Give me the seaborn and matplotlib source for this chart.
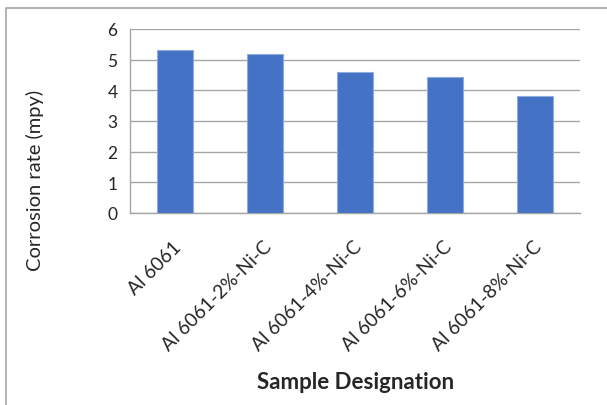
import matplotlib
matplotlib.use('Agg')
import matplotlib.pyplot as plt
from matplotlib.patches import Rectangle
import matplotlib.transforms as mtrans
import seaborn as sns
import pandas as pd

# 数据
samples = ['Al 6061', 'Al 6061-2%-Ni-C', 'Al 6061-4%-Ni-C', 'Al 6061-6%-Ni-C', 'Al 6061-8%-Ni-C']
corrosion_rate = [5.32, 5.2, 4.6, 4.42, 3.82]
y_ticks = [0, 1, 2, 3, 4, 5, 6]

df = pd.DataFrame({'sample': samples, 'rate': corrosion_rate})

sns.set_style('white')
plt.rcParams['font.family'] = ['Lato', 'DejaVu Sans']

fig = plt.figure(figsize=(6.07, 4.06), dpi=100)
ax = fig.add_axes([130 / 607, 1 - 214 / 406, 450 / 607, 184 / 406])

sns.barplot(data=df, x='sample', y='rate', color='#4472C4', saturation=1,
            width=0.4, edgecolor='#8FAADC', linewidth=0.8, ax=ax, zorder=3)

ax.set_ylim(0, 6)
ax.set_yticks(y_ticks)
ax.set_xlim(-0.5, len(samples) - 0.5)
ax.yaxis.grid(True, color='#A6A6A6', linewidth=1.0, zorder=0)
ax.set_axisbelow(True)
for s in ['top', 'right']:
    ax.spines[s].set_visible(False)
for s in ['left', 'bottom']:
    ax.spines[s].set_color('#A6A6A6')
    ax.spines[s].set_linewidth(1.0)

# 类别分隔刻度
ax.set_xticks([i - 0.5 for i in range(len(samples) + 1)], minor=True)
ax.tick_params(axis='x', which='minor', length=6, color='#A6A6A6', width=1)
ax.tick_params(axis='x', which='major', length=0, labelsize=13.8, pad=22)
ax.tick_params(axis='y', length=5, color='#A6A6A6', width=1, labelsize=12.5, pad=4)
shift = mtrans.ScaledTranslation(2.5 / 72, 0, fig.dpi_scale_trans)
for lab in ax.get_xticklabels():
    lab.set_rotation(45)
    lab.set_ha('right')
    lab.set_va('center')
    lab.set_rotation_mode('anchor')
    lab.set_transform(lab.get_transform() + shift)

ax.set_xlabel('Sample Designation', fontsize=16, fontweight='bold')
ax.xaxis.set_label_coords(0.502, -0.859)
ax.set_ylabel('Corrosion rate (mpy)', fontsize=14.5)
ax.yaxis.set_label_coords(-0.191, 0.18)

# 外框
fig.patches.append(Rectangle((5.5 / 607, -0.05), 1.2, 1 - 9 / 406 + 0.05,
                             transform=fig.transFigure, fill=False,
                             edgecolor='#A6A6A6', linewidth=1.2))

fig.savefig('out.png', dpi=100)
